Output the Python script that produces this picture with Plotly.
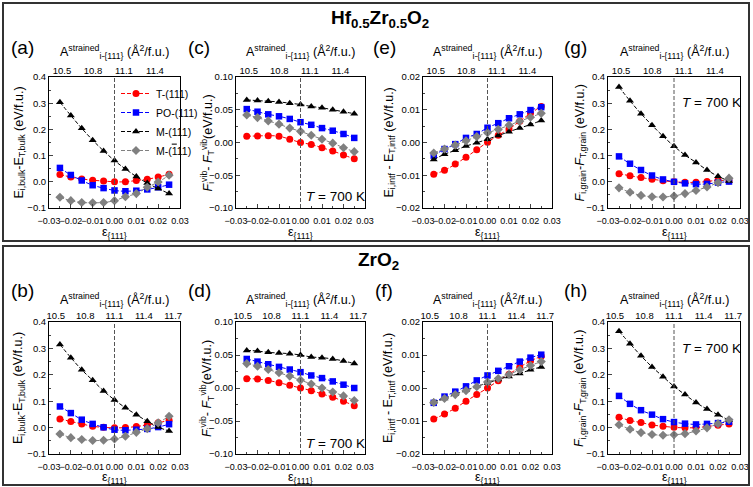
import plotly.graph_objects as go
import numpy as np

# ---------------- data ----------------
strain = [-0.025, -0.02, -0.015, -0.01, -0.005, 0.0, 0.005, 0.01, 0.015, 0.02, 0.025]
series_names = ["T-(111)", "PO-(111)", "M-(111)",
                "M-(<span style='text-decoration:overline'>1</span>11)"]

# (a) HZO bulk
a_T  = [0.028, 0.018, 0.011, 0.006, 0.003, 0.000, 0.000, 0.005, 0.010, 0.018, 0.029]
a_PO = [0.053, 0.026, 0.005, -0.013, -0.024, -0.033, -0.036, -0.034, -0.029, -0.021, -0.011]
a_M  = [0.304, 0.253, 0.204, 0.159, 0.118, 0.081, 0.049, 0.020, -0.005, -0.026, -0.045]
a_Mb = [-0.059, -0.072, -0.079, -0.080, -0.079, -0.072, -0.057, -0.045, -0.021, -0.001, 0.025]
# (c) HZO vib
c_T  = [0.0096, 0.0100, 0.0104, 0.0096, 0.0050, 0.0000, -0.0030, -0.0080, -0.0130, -0.0190, -0.0250]
c_PO = [0.051, 0.047, 0.043, 0.040, 0.036, 0.031, 0.027, 0.022, 0.018, 0.013, 0.007]
c_M  = [0.065, 0.064, 0.063, 0.062, 0.060, 0.058, 0.055, 0.053, 0.050, 0.047, 0.044]
c_Mb = [0.042, 0.038, 0.033, 0.028, 0.022, 0.017, 0.011, 0.005, -0.001, -0.008, -0.014]
# (e) HZO interface
e_T  = [-0.0097, -0.0085, -0.0066, -0.0045, -0.0022, 0.0001, 0.0022, 0.0041, 0.0065, 0.0089, 0.0110]
e_PO = [-0.0040, -0.0020, -0.0005, 0.0014, 0.0026, 0.0045, 0.0059, 0.0074, 0.0086, 0.0099, 0.0108]
e_M  = [-0.0052, -0.0036, -0.0024, -0.0011, -0.0001, 0.0010, 0.0021, 0.0033, 0.0044, 0.0055, 0.0067]
e_Mb = [-0.0032, -0.0020, -0.0008, 0.0005, 0.0018, 0.0030, 0.0040, 0.0053, 0.0065, 0.0077, 0.0089]
# (g) HZO grain
g_T  = [0.031, 0.023, 0.016, 0.010, 0.004, 0.000, -0.002, -0.002, 0.001, 0.006, 0.003]
g_PO = [0.097, 0.069, 0.045, 0.024, 0.009, 0.000, -0.006, -0.009, -0.008, -0.003, 0.001]
g_M  = [0.362, 0.309, 0.260, 0.216, 0.174, 0.136, 0.102, 0.074, 0.045, 0.021, 0.003]
g_Mb = [-0.023, -0.040, -0.052, -0.057, -0.058, -0.054, -0.045, -0.033, -0.020, -0.003, 0.014]
# (b) ZrO2 bulk
b_T  = [0.033, 0.023, 0.014, 0.005, 0.001, -0.001, 0.000, 0.004, 0.010, 0.018, 0.028]
b_PO = [0.080, 0.055, 0.030, 0.014, 0.001, -0.008, -0.010, -0.008, -0.005, 0.002, 0.013]
b_M  = [0.315, 0.265, 0.219, 0.179, 0.139, 0.105, 0.075, 0.049, 0.024, 0.002, -0.013]
b_Mb = [-0.024, -0.038, -0.045, -0.049, -0.048, -0.043, -0.033, -0.018, -0.004, 0.018, 0.043]
# (d) ZrO2 vib
d_T  = [0.0140, 0.0136, 0.0115, 0.0080, 0.0040, 0.0000, -0.0040, -0.0090, -0.0140, -0.0200, -0.0270]
d_PO = [0.044, 0.040, 0.036, 0.032, 0.028, 0.024, 0.019, 0.015, 0.010, 0.005, 0.000]
d_M  = [0.057, 0.056, 0.054, 0.053, 0.052, 0.050, 0.047, 0.046, 0.044, 0.041, 0.037]
d_Mb = [0.037, 0.033, 0.028, 0.023, 0.018, 0.012, 0.006, 0.000, -0.006, -0.012, -0.019]
# (f) ZrO2 interface
f_T  = [-0.0094, -0.0079, -0.0061, -0.0040, -0.0020, 0.0000, 0.0022, 0.0042, 0.0063, 0.0082, 0.0096]
f_PO = [-0.0045, -0.0026, -0.0011, 0.0005, 0.0023, 0.0038, 0.0052, 0.0066, 0.0080, 0.0092, 0.0101]
f_M  = [-0.0042, -0.0032, -0.0019, -0.0007, 0.0005, 0.0015, 0.0026, 0.0035, 0.0044, 0.0055, 0.0064]
f_Mb = [-0.0044, -0.0032, -0.0020, -0.0008, 0.0004, 0.0018, 0.0029, 0.0041, 0.0055, 0.0068, 0.0080]
# (h) ZrO2 grain
h_T  = [0.039, 0.027, 0.019, 0.010, 0.005, 0.001, -0.001, 0.000, 0.004, 0.009, 0.014]
h_PO = [0.120, 0.090, 0.066, 0.049, 0.032, 0.021, 0.015, 0.012, 0.014, 0.017, 0.022]
h_M  = [0.365, 0.318, 0.272, 0.230, 0.193, 0.156, 0.125, 0.095, 0.070, 0.049, 0.028]
h_Mb = [0.011, -0.006, -0.019, -0.026, -0.029, -0.027, -0.023, -0.013, -0.001, 0.015, 0.030]

strain_ticks = [-0.03, -0.02, -0.01, 0.00, 0.01, 0.02, 0.03]
area_ticks_hzo = [10.5, 10.8, 11.1, 11.4]
area_ticks_zro = [10.5, 10.8, 11.1, 11.4, 11.7]
area_range_hzo = [10.374, 11.642]
area_range_zro = [10.43, 11.77]

# ---------------- styles ----------------
W, H = 753, 487
colors = ["#ff0000", "#0000ff", "#000000", "#808080"]
symbols = ["circle", "square", "triangle-up", "diamond"]
msize = [7, 6.5, 7, 7]
FONT = "Arial, Liberation Sans, sans-serif"

panels = [
    ("a", [a_T, a_PO, a_M, a_Mb], [-0.1, 0.4], [-0.1, 0, 0.1, 0.2, 0.3, 0.4], ".1f", 0, 0,
     "E<sub>i,bulk</sub>-E<sub>T,bulk</sub> (eV/f.u.)", "(a)", None),
    ("c", [c_T, c_PO, c_M, c_Mb], [-0.1, 0.1], [-0.1, -0.05, 0, 0.05, 0.1], ".2f", 1, 0,
     "<i>F</i><sub>i</sub><sup>vib</sup>- <i>F</i><sub>T</sub><sup>vib</sup>(eV/f.u.)", "(c)", "bottom"),
    ("e", [e_T, e_PO, e_M, e_Mb], [-0.02, 0.02], [-0.02, -0.01, 0, 0.01, 0.02], ".2f", 2, 0,
     "E<sub>i,intf</sub> - E<sub>T,intf</sub> (eV/f.u.)", "(e)", None),
    ("g", [g_T, g_PO, g_M, g_Mb], [-0.1, 0.4], [-0.1, 0, 0.1, 0.2, 0.3, 0.4], ".1f", 3, 0,
     "<i>F</i><sub>i,grain</sub>-<i>F</i><sub>T,grain</sub> (eV/f.u.)", "(g)", "top"),
    ("b", [b_T, b_PO, b_M, b_Mb], [-0.1, 0.4], [-0.1, 0, 0.1, 0.2, 0.3, 0.4], ".1f", 0, 1,
     "E<sub>i,bulk</sub>-E<sub>T,bulk</sub> (eV/f.u.)", "(b)", None),
    ("d", [d_T, d_PO, d_M, d_Mb], [-0.1, 0.1], [-0.1, -0.05, 0, 0.05, 0.1], ".2f", 1, 1,
     "<i>F</i><sub>i</sub><sup>vib</sup>- <i>F</i><sub>T</sub><sup>vib</sup>(eV/f.u.)", "(d)", "bottom"),
    ("f", [f_T, f_PO, f_M, f_Mb], [-0.02, 0.02], [-0.02, -0.01, 0, 0.01, 0.02], ".2f", 2, 1,
     "E<sub>i,intf</sub> - E<sub>T,intf</sub> (eV/f.u.)", "(f)", None),
    ("h", [h_T, h_PO, h_M, h_Mb], [-0.1, 0.4], [-0.1, 0, 0.1, 0.2, 0.3, 0.4], ".1f", 3, 1,
     "<i>F</i><sub>i,grain</sub>-<i>F</i><sub>T,grain</sub> (eV/f.u.)", "(h)", "top"),
]

cols_px = [(49, 180), (236, 365), (423, 552), (608, 740)]
rows_px = [(77, 208), (322, 454)]
ytitle_x = [19, 207, 389, 580]
label_x = [22, 199, 384, 575]
label_y = [47, 290]
top_title_y = [52, 300]
eps_title_y = [233, 478]

def px_x(x):
    return x / W

def px_y(y):
    return 1 - y / H

fig = go.Figure()
layout = dict(width=W, height=H, margin=dict(l=0, r=0, t=0, b=0),
              paper_bgcolor="white", plot_bgcolor="white",
              font=dict(family=FONT, size=9, color="black"),
              showlegend=True)
annotations = []
shapes = []

for i, (key, data, yr, ytv, yfmt, col, row, ytitle, label, tpos) in enumerate(panels):
    n = i + 1
    nt = i + 9
    xs = "" if n == 1 else str(n)
    x0, x1 = cols_px[col]
    y0, y1 = rows_px[row]
    xdom = [px_x(x0), px_x(x1)]
    ydom = [px_y(y1), px_y(y0)]
    for s in range(4):
        fig.add_trace(go.Scatter(
            x=strain, y=data[s], mode="lines+markers", name=series_names[s],
            xaxis="x" + xs, yaxis="y" + xs,
            line=dict(color=colors[s], width=1, dash="4px,2px", shape="spline"),
            marker=dict(color=colors[s], symbol=symbols[s], size=msize[s], line=dict(width=0)),
            showlegend=(i == 0), hoverinfo="skip"))
    arange = area_range_hzo if row == 0 else area_range_zro
    fig.add_trace(go.Scatter(x=arange, y=[None, None], xaxis="x" + str(nt), yaxis="y" + xs,
                             mode="lines", showlegend=False, hoverinfo="skip"))
    layout["xaxis" + xs] = dict(domain=xdom, anchor="y" + xs, range=[-0.03, 0.03],
                                tickvals=strain_ticks, tickformat=".2f",
                                ticks="inside", ticklen=4, ticklabelstandoff=4,
                                tickangle=0, automargin=False,
                                minor=dict(ticks="inside", ticklen=2, dtick=0.005, tick0=0),
                                showline=True, linecolor="black", linewidth=1, mirror=True,
                                showgrid=False, zeroline=False, tickfont=dict(size=9))
    layout["yaxis" + xs] = dict(domain=ydom, anchor="x" + xs, range=yr,
                                tickvals=ytv, tickformat=yfmt, ticks="inside", ticklen=4,
                                automargin=False,
                                minor=dict(ticks="inside", ticklen=2,
                                           dtick=(ytv[1] - ytv[0]) / 2, tick0=0),
                                showline=True, linecolor="black", linewidth=1, mirror=True,
                                showgrid=False, zeroline=False, tickfont=dict(size=9.5))
    atv = area_ticks_hzo if row == 0 else area_ticks_zro
    layout["xaxis" + str(nt)] = dict(overlaying="x" + xs, side="top", anchor="y" + xs,
                                     range=arange, tickvals=atv, tickformat=".1f",
                                     tickangle=0, automargin=False,
                                     ticks="", showline=False, showgrid=False, zeroline=False,
                                     tickfont=dict(size=9.5))
    shapes.append(dict(type="line", xref="x" + xs, yref="y" + xs + " domain",
                       x0=0, x1=0, y0=0, y1=1,
                       line=dict(color="#555555", width=1, dash="4px,2px")))
    xc = (x0 + x1) / 2
    annotations.append(dict(x=px_x(xc), y=px_y(top_title_y[row]), xref="paper", yref="paper",
                            text="A<sup>strained</sup><sub>i-{111}</sub> (Å<sup>2</sup>/f.u.)",
                            showarrow=False, font=dict(size=12.5), xanchor="center", yanchor="middle"))
    annotations.append(dict(x=px_x(xc), y=px_y(eps_title_y[row]), xref="paper", yref="paper",
                            text="ε<sub>{111}</sub>", showarrow=False, font=dict(size=12.5),
                            xanchor="center", yanchor="middle"))
    annotations.append(dict(x=px_x(ytitle_x[col]), y=px_y((y0 + y1) / 2), xref="paper", yref="paper",
                            text=ytitle, textangle=-90, showarrow=False, font=dict(size=12.5),
                            xanchor="center", yanchor="middle"))
    annotations.append(dict(x=px_x(label_x[col]), y=px_y(label_y[row]), xref="paper", yref="paper",
                            text=label, showarrow=False, font=dict(size=19),
                            xanchor="center", yanchor="middle"))
    if tpos is not None:
        if tpos == "bottom":
            tx, ty = 335, y1 - 11
        else:
            tx, ty = 711, y0 + 26
        annotations.append(dict(x=px_x(tx), y=px_y(ty), xref="paper", yref="paper",
                                text="<i>T</i> = 700 K", showarrow=False, font=dict(size=13.5),
                                xanchor="center", yanchor="middle"))

annotations.append(dict(x=px_x(380), y=px_y(19), xref="paper", yref="paper",
                        text="<b>Hf<sub>0.5</sub>Zr<sub>0.5</sub>O<sub>2</sub></b>",
                        showarrow=False, font=dict(size=19), xanchor="center", yanchor="middle"))
annotations.append(dict(x=px_x(378), y=px_y(261), xref="paper", yref="paper",
                        text="<b>ZrO<sub>2</sub></b>",
                        showarrow=False, font=dict(size=19), xanchor="center", yanchor="middle"))

for (bx0, by0, bx1, by1) in [(3, 3, 749, 241), (3, 246, 749, 485)]:
    shapes.append(dict(type="rect", xref="paper", yref="paper",
                       x0=px_x(bx0), x1=px_x(bx1), y0=px_y(by1), y1=px_y(by0),
                       line=dict(color="#333333", width=2)))

layout["annotations"] = annotations
layout["shapes"] = shapes
layout["legend"] = dict(x=px_x(116), y=px_y(79), xanchor="left", yanchor="top",
                        bgcolor="rgba(0,0,0,0)", font=dict(size=10.5), tracegroupgap=0,
                        itemwidth=30)
fig.update_layout(**layout)
fig.write_html("out.html", config={"displayModeBar": False},
               post_script="document.body.style.margin='0px';document.body.style.overflow='hidden';")
